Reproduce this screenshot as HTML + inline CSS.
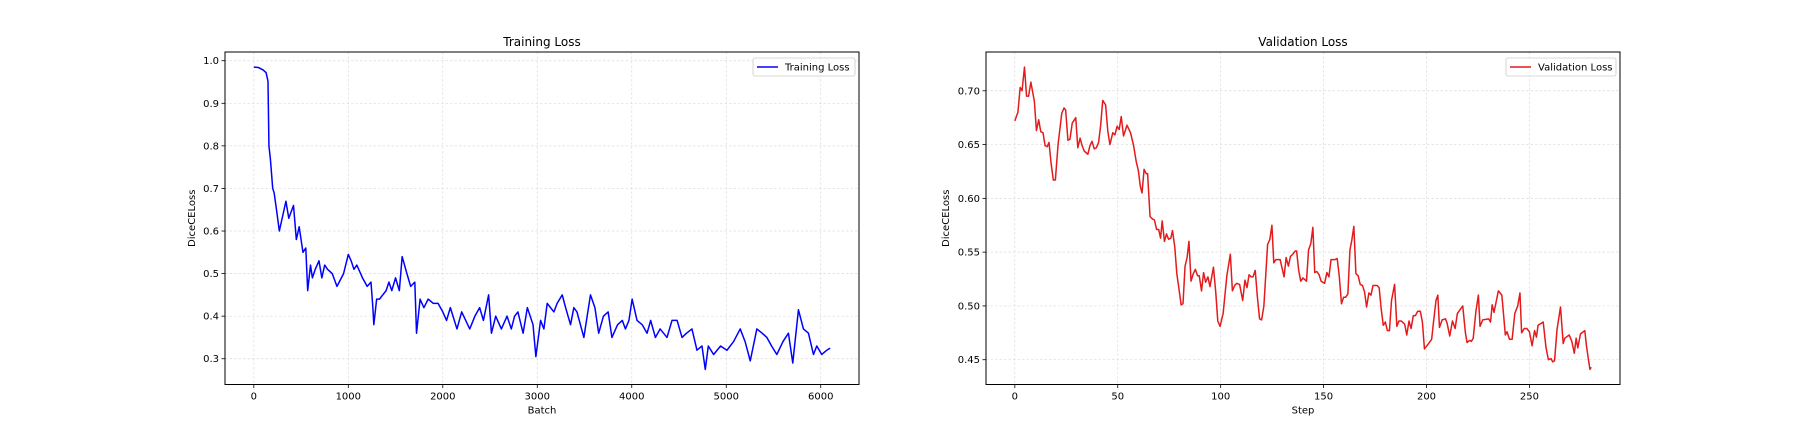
<!DOCTYPE html>
<html><head><meta charset="utf-8"><style>
html,body{margin:0;padding:0;background:#fff;}
svg{display:block;font-family:"DejaVu Sans","Liberation Sans",sans-serif;}
</style></head><body>
<svg id="fig" width="1800" height="432" viewBox="0 0 1800 432" xmlns="http://www.w3.org/2000/svg">
<rect width="1800" height="432" fill="#fff"/>
</svg>
<script>
// ---- Training data ----
const trainBatch = [0,50,100,130,150,160,175,200,215,240,270,310,340,370,420,450,480,520,550,570,600,620,650,690,720,750,780,830,880,950,1000,1030,1060,1090,1150,1200,1240,1260,1270,1300,1330,1400,1430,1460,1500,1540,1570,1620,1660,1704,1722,1760,1800,1845,1900,1950,2000,2040,2080,2150,2200,2285,2340,2390,2430,2485,2515,2560,2620,2680,2725,2760,2795,2850,2895,2955,2985,3035,3070,3105,3176,3210,3264,3300,3352,3387,3420,3493,3563,3610,3650,3700,3750,3790,3850,3900,3933,3970,4004,4056,4110,4162,4200,4250,4300,4373,4426,4480,4532,4580,4637,4690,4743,4778,4810,4866,4940,5007,5077,5148,5200,5254,5324,5380,5430,5480,5535,5600,5658,5704,5764,5817,5870,5923,5958,6011,6064,6100];
const trainLoss = [0.985,0.984,0.978,0.972,0.952,0.80,0.77,0.70,0.69,0.65,0.60,0.64,0.67,0.63,0.66,0.58,0.61,0.55,0.56,0.46,0.52,0.49,0.51,0.53,0.49,0.52,0.51,0.50,0.47,0.50,0.545,0.53,0.51,0.52,0.49,0.47,0.48,0.42,0.38,0.44,0.44,0.46,0.48,0.46,0.49,0.46,0.54,0.50,0.47,0.48,0.36,0.44,0.42,0.44,0.43,0.43,0.41,0.39,0.42,0.37,0.41,0.37,0.40,0.42,0.39,0.45,0.36,0.40,0.37,0.40,0.37,0.40,0.41,0.36,0.42,0.38,0.305,0.39,0.37,0.43,0.41,0.43,0.45,0.42,0.38,0.42,0.41,0.35,0.45,0.42,0.36,0.40,0.41,0.35,0.38,0.39,0.37,0.39,0.44,0.39,0.38,0.36,0.39,0.35,0.37,0.35,0.39,0.39,0.35,0.36,0.37,0.32,0.33,0.275,0.33,0.31,0.33,0.32,0.34,0.37,0.34,0.295,0.37,0.36,0.35,0.33,0.31,0.34,0.36,0.29,0.415,0.37,0.36,0.31,0.33,0.31,0.32,0.325];
const trainXTicks = [0,1000,2000,3000,4000,5000,6000];
const trainYTicks = [0.3,0.4,0.5,0.6,0.7,0.8,0.9,1.0];
const trainYTickLabels = ["0.3","0.4","0.5","0.6","0.7","0.8","0.9","1.0"];
// ---- Validation data ----
const valStep = [0,1.5,2.6,3.5,4.7,5.7,6.7,7.8,9.5,10.5,11.6,12.6,13.7,14.7,15.7,16.6,17.6,18.7,19.7,21,22.8,23.9,24.7,25.8,26.8,27.9,29.6,30.6,31.7,32.7,33.7,35.5,36.5,37.5,38.6,39.6,40.7,41.7,42.7,44.1,45.2,46.2,47.6,48.6,49.7,50.7,51.7,52.8,54.5,56.2,57.6,59,60,61,61.8,62.8,63.8,64.5,65.7,66.8,67.8,68.9,69.9,70.8,71.6,72.7,73.7,74.7,75.8,76.6,77.7,78.7,79.8,80.8,81.7,82.7,83.7,84.6,85.6,86.7,87.7,88.8,89.6,90.7,91.7,92.7,93.8,94.8,96.5,97.6,98.6,99.7,101.2,103,104.7,105.7,106.8,107.8,109.2,110.7,111.8,112.8,113.8,114.8,115.7,116.8,117.8,118.9,119.9,121,122.8,123.9,124.9,125.8,126.8,128.9,130.8,131.8,132.9,133.9,135,136.2,136.9,137.9,138.9,140,141.7,142.7,143.8,144.8,145.7,146.7,147.8,148.8,150.5,151.6,152.6,153.6,155.5,156.6,157.6,158.7,159.7,160.7,161.8,162.8,163.7,164.7,165.7,166.8,167.8,168.9,169.9,170.9,172,173,174,176,177,178,179,180,181,182,183,184.5,185.6,186.6,187.7,189.4,190.4,191.5,192.5,193.6,194.6,195.7,197,198,199,201,202.5,203.4,204.6,205.5,206.3,207.6,209.2,210,211.3,212.6,213.9,215,217.6,218.9,219.7,221,221.8,222.7,224,225.2,226,227.3,230.2,231.1,231.9,232.8,234.9,236.6,238.3,239.1,240.3,241.6,242.9,244.3,245.4,246.2,247.5,248.7,250,251.3,252.5,253.4,254.2,256.7,258,259.2,260.5,261.3,262.2,263.4,265.1,266.4,267.2,269.3,270.6,271.8,272.7,273.5,274.8,276.9,277.7,278.6,279.4,280];
const valLoss = [0.672,0.680,0.703,0.700,0.722,0.695,0.695,0.708,0.690,0.663,0.673,0.662,0.661,0.649,0.648,0.652,0.633,0.617,0.617,0.650,0.679,0.684,0.682,0.654,0.655,0.670,0.675,0.647,0.656,0.649,0.644,0.641,0.649,0.653,0.646,0.647,0.652,0.668,0.691,0.687,0.662,0.650,0.661,0.659,0.667,0.664,0.676,0.658,0.668,0.661,0.650,0.634,0.626,0.611,0.605,0.627,0.623,0.623,0.583,0.581,0.580,0.571,0.571,0.563,0.579,0.560,0.567,0.562,0.563,0.570,0.555,0.530,0.515,0.501,0.502,0.537,0.545,0.560,0.523,0.530,0.534,0.528,0.528,0.514,0.531,0.522,0.527,0.518,0.536,0.513,0.486,0.481,0.493,0.528,0.548,0.514,0.519,0.521,0.520,0.505,0.524,0.517,0.529,0.527,0.527,0.533,0.509,0.488,0.487,0.500,0.557,0.562,0.575,0.540,0.543,0.543,0.527,0.545,0.537,0.546,0.548,0.551,0.551,0.533,0.523,0.526,0.523,0.552,0.558,0.573,0.531,0.532,0.529,0.523,0.521,0.531,0.527,0.543,0.543,0.544,0.528,0.502,0.508,0.508,0.511,0.552,0.561,0.574,0.530,0.528,0.520,0.519,0.513,0.499,0.512,0.510,0.519,0.519,0.517,0.497,0.482,0.485,0.477,0.477,0.505,0.520,0.481,0.486,0.486,0.483,0.473,0.486,0.479,0.491,0.491,0.495,0.495,0.485,0.460,0.465,0.469,0.485,0.505,0.510,0.480,0.487,0.488,0.484,0.472,0.486,0.479,0.493,0.500,0.475,0.466,0.468,0.467,0.470,0.495,0.510,0.481,0.487,0.488,0.485,0.501,0.494,0.514,0.510,0.473,0.476,0.469,0.469,0.493,0.500,0.512,0.475,0.479,0.479,0.476,0.463,0.477,0.471,0.482,0.485,0.462,0.450,0.451,0.448,0.449,0.478,0.499,0.465,0.470,0.473,0.467,0.456,0.470,0.461,0.474,0.477,0.463,0.451,0.441,0.443];
const valXTicks = [0,50,100,150,200,250];
const valYTicks = [0.45,0.50,0.55,0.60,0.65,0.70];
const valYTickLabels = ["0.45","0.50","0.55","0.60","0.65","0.70"];

const NS = "http://www.w3.org/2000/svg";
const svg = document.getElementById('fig');
function mk(tag, attrs, parent){
  const e = document.createElementNS(NS, tag);
  for (const k in attrs) e.setAttribute(k, attrs[k]);
  (parent||svg).appendChild(e);
  return e;
}
function extent(a){ return [Math.min(...a), Math.max(...a)]; }

function drawPanel(o){
  const L=o.left, R=o.left+634, T=52, B=384.5;
  const [x0,x1]=extent(o.xs), [y0,y1]=extent(o.ys);
  const xm=(x1-x0)*0.05, ym=(y1-y0)*0.05;
  const xmin=x0-xm, xmax=x1+xm, ymin=y0-ym, ymax=y1+ym;
  const sx = v => L + (v-xmin)/(xmax-xmin)*(R-L);
  const sy = v => B - (v-ymin)/(ymax-ymin)*(B-T);
  const g = mk('g', {});
  
  
  o.xt.forEach(t=>{
    const l = mk('line',{x1:sx(t),x2:sx(t),y1:T,y2:B,stroke:'#dcdcdc','stroke-width':0.7,'stroke-dasharray':'2.5,2'},g);
    
    
  });
  o.yt.forEach(t=>{
    const l = mk('line',{x1:L,x2:R,y1:sy(t),y2:sy(t),stroke:'#dcdcdc','stroke-width':0.7,'stroke-dasharray':'2.5,2'},g);
    
    
  });
  const d = o.xs.map((x,i)=>(i?'L':'M')+sx(x).toFixed(2)+','+sy(o.ys[i]).toFixed(2)).join('');
  const p = mk('path',{d:d,fill:'none',stroke:o.color,'stroke-width':1.5,'stroke-linejoin':'round'},g);
  
  
  const fr = mk('rect',{x:L,y:T,width:R-L,height:B-T,fill:'none',stroke:'#000','stroke-width':1},g);
  
  
  o.xt.forEach(t=>{
    mk('line',{x1:sx(t),x2:sx(t),y1:B,y2:B+3.5,stroke:'#000','stroke-width':0.8},g);
    const tx = mk('text',{x:sx(t),y:B+15,'font-size':10,'text-anchor':'middle',fill:'#000'},g);
    tx.textContent = String(t);
    
    
  });
  o.yt.forEach((t,i)=>{
    mk('line',{x1:L-3.5,x2:L,y1:sy(t),y2:sy(t),stroke:'#000','stroke-width':0.8},g);
    const ty = mk('text',{x:L-6,y:sy(t)+3.5,'font-size':10,'text-anchor':'end',fill:'#000'},g);
    ty.textContent = o.ytl[i];
    
    
  });
  const ti = mk('text',{x:(L+R)/2,y:T-6,'font-size':12,'text-anchor':'middle',fill:'#000'},g);
  ti.textContent = o.title;
  
  
  const xl = mk('text',{x:(L+R)/2,y:B+29,'font-size':10,'text-anchor':'middle',fill:'#000'},g);
  xl.textContent = o.xlabel;
  
  
  const yx = L-o.ylOff, yy=(T+B)/2;
  const yl = mk('text',{x:yx,y:yy,'font-size':10,'text-anchor':'middle',fill:'#000',transform:'rotate(-90 '+yx+' '+yy+')'},g);
  yl.textContent = 'DiceCELoss';
  
  
  const lw=o.legW, lx=R-4-lw, ly=T+6;
  const lg = mk('g',{},g);
  
  
  mk('rect',{x:lx,y:ly,width:lw,height:18,rx:2,fill:'#fff','fill-opacity':0.8,stroke:'#ccc','stroke-width':0.8},lg);
  mk('line',{x1:lx+4,x2:lx+25,y1:ly+9,y2:ly+9,stroke:o.color,'stroke-width':1.5},lg);
  const lt = mk('text',{x:lx+32,y:ly+12.5,'font-size':10,fill:'#000'},lg);
  lt.textContent = o.title;
  
  
}
drawPanel({name:'training',left:225,xs:trainBatch,ys:trainLoss,xt:trainXTicks,yt:trainYTicks,ytl:trainYTickLabels,color:'#0000ff',title:'Training Loss',xlabel:'Batch',ylOff:30,legW:102});
drawPanel({name:'validation',left:986,xs:valStep,ys:valLoss,xt:valXTicks,yt:valYTicks,ytl:valYTickLabels,color:'#e41a1c',title:'Validation Loss',xlabel:'Step',ylOff:37,legW:110});
</script>
</body></html>
